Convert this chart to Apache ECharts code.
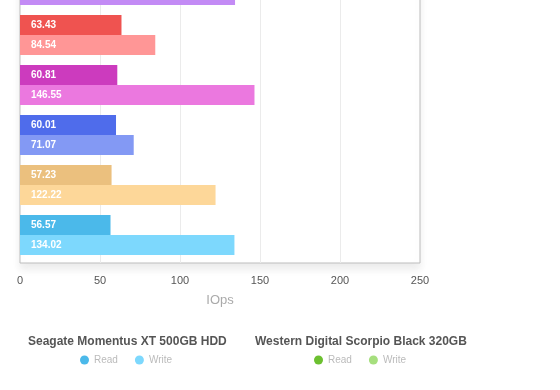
<!DOCTYPE html>
<html>
<head>
<meta charset="utf-8">
<script src="https://cdn.jsdelivr.net/npm/echarts@6/dist/echarts.min.js"></script>
<style>
  html, body { margin: 0; padding: 0; background: #fff; overflow: hidden; width: 560px; height: 390px; }
  /* The reference shows only the lower part of a taller chart: the canvas is shifted up by 40px */
  #chart { width: 560px; height: 430px; margin-top: -40px; }
</style>
</head>
<body>
<div id="chart"></div>
<script>
// Drives, listed bottom to top (only the lower part of the chart is in view)
const categories = ['Seagate Momentus XT 500GB HDD', 'Drive 5', 'Drive 4', 'Drive 3', 'Drive 2', 'Drive 1'];
const readValues = [56.57, 57.23, 60.01, 60.81, 63.43, null];
const writeValues = [134.02, 122.22, 71.07, 146.55, 84.54, 134.4];
const xTicks = [0, 50, 100, 150, 200, 250];
const legendGroups = ['Seagate Momentus XT 500GB HDD', 'Western Digital Scorpio Black 320GB'];

const readColors = ['#4bb9ea', '#ebc07e', '#4f6ceb', '#cc3bbe', '#ef5350', '#a86ef0'];
const writeColors = ['#7dd8fd', '#fdd799', '#8399f4', '#eb78df', '#ff9696', '#c38bf5'];
const legendReadColors = ['#4bb9ea', '#6cc030'];
const legendWriteColors = ['#7dd8fd', '#a6df7e'];

const FONT = '"Liberation Sans", Arial, Helvetica, sans-serif';

const chart = echarts.init(document.getElementById('chart'), null, { renderer: 'canvas' });

const barLabel = {
  show: true,
  position: 'insideLeft',
  distance: 11,
  color: '#fff',
  fontSize: 10,
  fontWeight: 'bold',
  fontFamily: FONT,
  formatter: p => (p.value == null ? '' : Number(p.value).toFixed(2))
};

chart.setOption({
  animation: false,
  backgroundColor: '#fff',
  textStyle: { fontFamily: FONT },
  title: [
    { text: legendGroups[0], left: 28, top: 376, padding: 0,
      textStyle: { fontSize: 12, fontWeight: 'bold', color: '#555', fontFamily: FONT } },
    { text: legendGroups[1], left: 255, top: 376, padding: 0,
      textStyle: { fontSize: 12, fontWeight: 'bold', color: '#555', fontFamily: FONT } }
  ],
  legend: [
    {
      left: 80, top: 395, padding: 0, icon: 'circle', itemWidth: 9, itemHeight: 9, itemGap: 17,
      textStyle: { color: '#bbb', fontSize: 10, fontFamily: FONT },
      data: [
        { name: 'Read', itemStyle: { color: legendReadColors[0] } },
        { name: 'Write', itemStyle: { color: legendWriteColors[0] } }
      ]
    },
    {
      left: 314, top: 395, padding: 0, icon: 'circle', itemWidth: 9, itemHeight: 9, itemGap: 17,
      textStyle: { color: '#bbb', fontSize: 10, fontFamily: FONT },
      data: [
        { name: 'Read', itemStyle: { color: legendReadColors[1] } },
        { name: 'Write', itemStyle: { color: legendWriteColors[1] } }
      ]
    }
  ],
  grid: [
    { left: 20, right: 140, top: 0, bottom: 127, show: true, backgroundColor: '#fff',
      borderColor: '#bdbdbd', borderWidth: 1,
      shadowColor: 'rgba(0,0,0,0.08)', shadowBlur: 8, shadowOffsetY: 6 },
    { left: 20, right: 140, top: 0, bottom: 130 }
  ],
  xAxis: [
    {
      gridIndex: 0, type: 'value', min: xTicks[0], max: xTicks[xTicks.length - 1], interval: 50,
      name: 'IOps', nameLocation: 'middle', nameGap: 31,
      nameTextStyle: { color: '#aaa', fontSize: 13, fontFamily: FONT },
      axisLine: { show: false }, axisTick: { show: false },
      axisLabel: { color: '#555', fontSize: 11, margin: 12, fontFamily: FONT },
      splitLine: { show: true, showMinLine: false, showMaxLine: false, lineStyle: { color: '#ebebeb', width: 1 } }
    },
    {
      gridIndex: 1, type: 'value', min: xTicks[0], max: xTicks[xTicks.length - 1], show: false,
      splitLine: { show: false }
    }
  ],
  yAxis: [
    { gridIndex: 0, type: 'value', min: 0, max: 1, show: false, splitLine: { show: false } },
    { gridIndex: 1, type: 'category', data: categories, show: false }
  ],
  series: [
    {
      name: 'Read', type: 'bar', xAxisIndex: 1, yAxisIndex: 1,
      data: readValues, barWidth: 20, barGap: 0,
      itemStyle: { color: p => readColors[p.dataIndex] },
      label: barLabel
    },
    {
      name: 'Write', type: 'bar', xAxisIndex: 1, yAxisIndex: 1,
      data: writeValues, barWidth: 20, barGap: 0,
      itemStyle: { color: p => writeColors[p.dataIndex] },
      label: barLabel
    }
  ]
});
</script>
</body>
</html>
